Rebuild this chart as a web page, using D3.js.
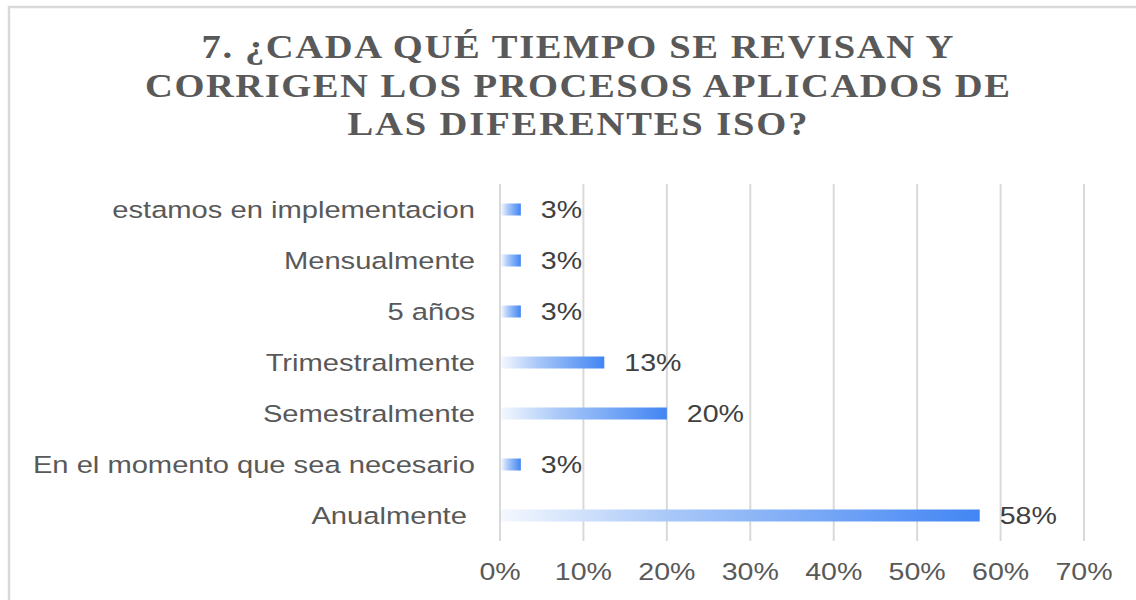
<!DOCTYPE html>
<html>
<head>
<meta charset="utf-8">
<script src="https://cdn.jsdelivr.net/npm/d3@7"></script>
<style>
  html, body { margin: 0; padding: 0; background: #fff; }
  svg { display: block; }
  text { white-space: pre; }
</style>
</head>
<body>
<div id="chart"></div>
<script>
// datos del gráfico (pregunta 7)
const titleLines = ['7. ¿CADA QUÉ TIEMPO SE REVISAN Y', 'CORRIGEN LOS PROCESOS APLICADOS DE', 'LAS DIFERENTES ISO?'];
const categories = ['estamos en implementacion', 'Mensualmente', '5 años', 'Trimestralmente', 'Semestralmente', 'En el momento que sea necesario', 'Anualmente '];
const values = [0.025, 0.025, 0.025, 0.125, 0.20, 0.025, 0.575];
const valueLabels = ['3%', '3%', '3%', '13%', '20%', '3%', '58%'];
const xTicks = [0, 0.1, 0.2, 0.3, 0.4, 0.5, 0.6, 0.7];

const width = 1136, height = 600;
const stretch = 1.19; // el texto del original está estirado en horizontal
const titleStretch = 1.17;

const svg = d3.select('#chart').append('svg')
    .attr('width', width)
    .attr('height', height);

// marco del área del gráfico
svg.append('rect')
    .attr('x', 9).attr('y', 7)
    .attr('width', width + 20).attr('height', height + 20)
    .attr('fill', '#fff')
    .attr('stroke', '#d9d9d9')
    .attr('stroke-width', 2.5);

// título
const titleWidths = [752, 865, 460];
const title = svg.append('g');
titleLines.forEach((line, i) => {
    title.append('text')
        .attr('transform', `translate(577.5, ${58 + i * 38.5}) scale(${titleStretch},1)`)
        .attr('text-anchor', 'middle')
        .attr('textLength', titleWidths[i] / titleStretch)
        .attr('lengthAdjust', 'spacing')
        .attr('font-family', '"Liberation Serif", "Times New Roman", serif')
        .attr('font-weight', 'bold')
        .attr('font-size', 33)
        .attr('fill', '#595959')
        .text(line);
});

// escalas
const x = d3.scaleLinear().domain([0, 0.7]).range([500, 1084]);
const y = d3.scaleBand().domain(categories).range([184, 541]).padding(0);
const barH = 12;

// líneas de cuadrícula
svg.append('g')
    .selectAll('line')
    .data(xTicks)
    .enter()
    .append('line')
    .attr('x1', d => x(d)).attr('x2', d => x(d))
    .attr('y1', 184).attr('y2', 541)
    .attr('stroke', '#d9d9d9')
    .attr('stroke-width', 2);

// etiquetas del eje x
svg.append('g')
    .selectAll('text')
    .data(xTicks)
    .enter()
    .append('text')
    .attr('transform', d => `translate(${x(d)}, 580) scale(${stretch},1)`)
    .attr('text-anchor', 'middle')
    .attr('font-family', '"Liberation Sans", Arial, sans-serif')
    .attr('font-size', 24)
    .attr('fill', '#595959')
    .text(d3.format('.0%'));

// gradiente de las barras
const defs = svg.append('defs');
const grad = defs.append('linearGradient')
    .attr('id', 'barGrad')
    .attr('x1', '0%').attr('x2', '100%')
    .attr('y1', '0%').attr('y2', '0%');
grad.append('stop').attr('offset', '0%').attr('stop-color', '#f4f8fe');
grad.append('stop').attr('offset', '35%').attr('stop-color', '#a9c8f8');
grad.append('stop').attr('offset', '100%').attr('stop-color', '#4285f4');

// barras
svg.append('g')
    .selectAll('rect')
    .data(values)
    .enter()
    .append('rect')
    .attr('x', x(0) + 1)
    .attr('y', (d, i) => y(categories[i]) + y.bandwidth() / 2 - barH / 2)
    .attr('width', d => x(d) - x(0) - 1)
    .attr('height', barH)
    .attr('fill', 'url(#barGrad)');

// etiquetas de categoría
svg.append('g')
    .selectAll('text')
    .data(categories)
    .enter()
    .append('text')
    .attr('transform', d => `translate(475, ${y(d) + y.bandwidth() / 2 + 8.5}) scale(${stretch},1)`)
    .attr('text-anchor', 'end')
    .attr('font-family', '"Liberation Sans", Arial, sans-serif')
    .attr('font-size', 24.5)
    .attr('fill', '#595959')
    .text(d => d);

// etiquetas de datos
svg.append('g')
    .selectAll('text')
    .data(values)
    .enter()
    .append('text')
    .attr('transform', (d, i) => `translate(${x(d) + 20}, ${y(categories[i]) + y.bandwidth() / 2 + 8.5}) scale(${stretch},1)`)
    .attr('font-family', '"Liberation Sans", Arial, sans-serif')
    .attr('font-size', 24)
    .attr('fill', '#404040')
    .text((d, i) => valueLabels[i]);
</script>
</body>
</html>
